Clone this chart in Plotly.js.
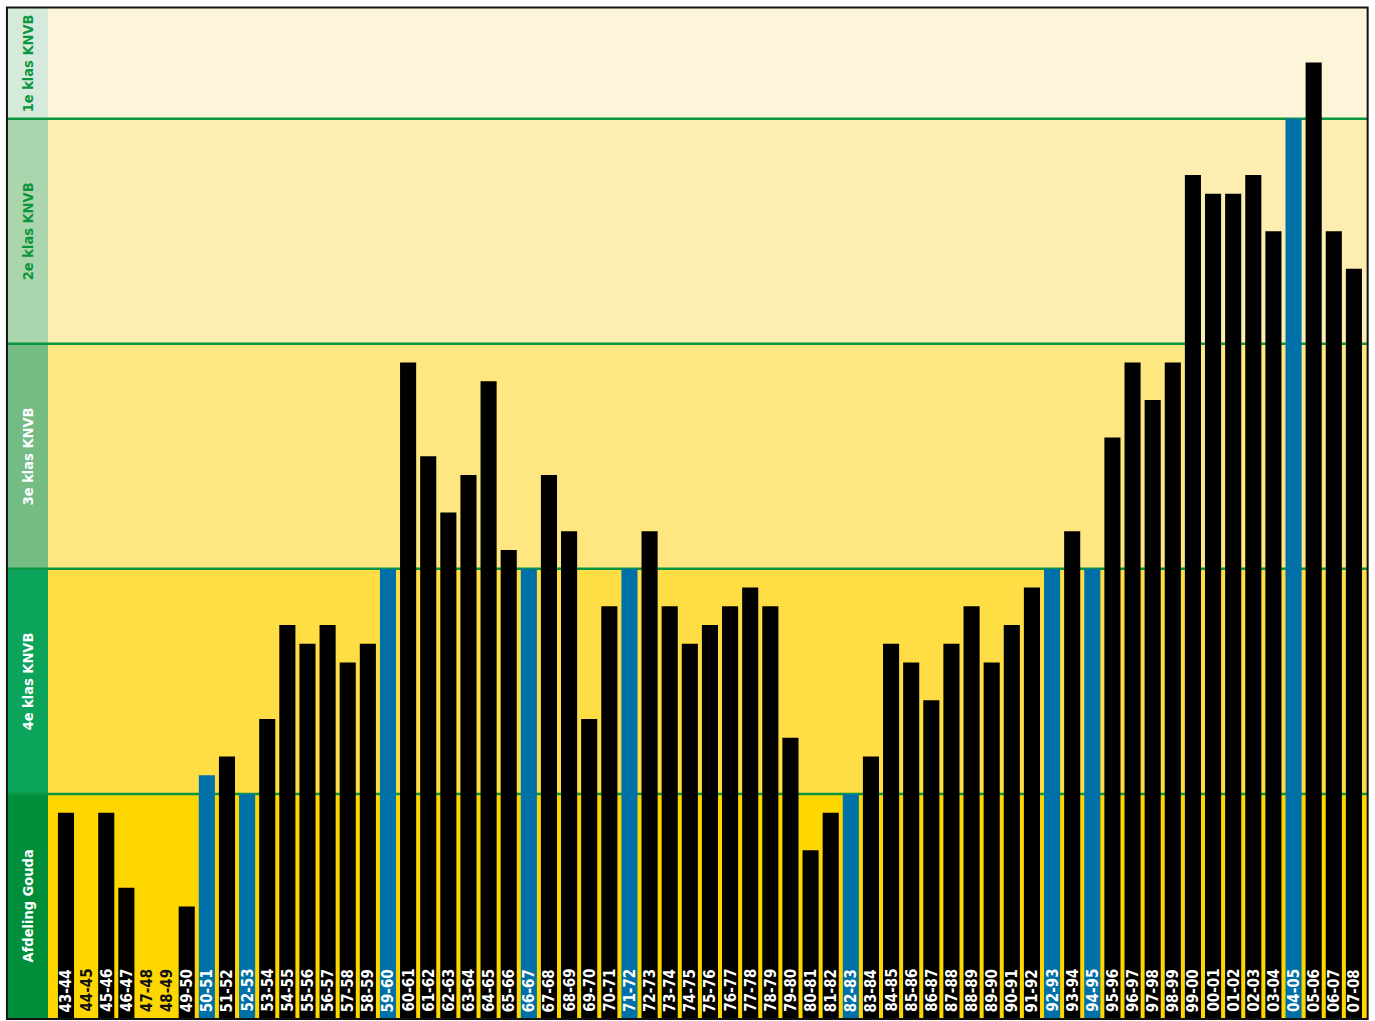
<!DOCTYPE html>
<html>
<head>
<meta charset="utf-8">
<script src="https://cdn.plot.ly/plotly-3.0.1.min.js"></script>
<style>html,body{margin:0;padding:0;background:#fff;}#chart{width:1375px;height:1021px;}</style>
</head>
<body>
<div id="chart"></div>
<script>
const seasons = ["43-44","44-45","45-46","46-47","47-48","48-49","49-50","50-51","51-52","52-53","53-54","54-55","55-56","56-57","57-58","58-59","59-60","60-61","61-62","62-63","63-64","64-65","65-66","66-67","67-68","68-69","69-70","70-71","71-72","72-73","73-74","74-75","75-76","76-77","77-78","78-79","79-80","80-81","81-82","82-83","83-84","84-85","85-86","86-87","87-88","88-89","89-90","90-91","91-92","92-93","93-94","94-95","95-96","96-97","97-98","98-99","99-00","00-01","01-02","02-03","03-04","04-05","05-06","06-07","07-08"];
const level = [11,0,11,7,0,0,6,13,14,12,16,21,20,21,19,20,24,35,30,27,29,34,25,24,29,26,16,22,24,26,22,20,21,22,23,22,15,9,11,12,14,20,19,17,20,22,19,21,23,24,26,24,31,35,33,35,45,44,44,45,42,48,51,42,40];
const promoted = [0,0,0,0,0,0,0,1,0,1,0,0,0,0,0,0,1,0,0,0,0,0,0,1,0,0,0,0,1,0,0,0,0,0,0,0,0,0,0,1,0,0,0,0,0,0,0,0,0,1,0,1,0,0,0,0,0,0,0,0,0,1,0,0,0];
const bandNames = ["Afdeling Gouda","4e klas KNVB","3e klas KNVB","2e klas KNVB","1e klas KNVB"];
const bandEdges = [0,12,24,36,48,53.9];

const bandFill = ["#FFD700","#FFDE45","#FEE680","#FEEDB0","#FDF5D9"];
const sideFill = ["#008E3A","#0CA35A","#74BC84","#ABD5AC","#D6EADB"];
const sideText = ["#ffffff","#ffffff","#ffffff","#0A9640","#0A9640"];
const FONT = "'Liberation Sans Narrow', 'DejaVu Sans Condensed', Arial, sans-serif";
const sideX0 = -40/1319;

const shapes = [];
const annotations = [];
for (let b = 0; b < bandNames.length; b++) {
  shapes.push({type:"rect", xref:"paper", yref:"y", x0:0, x1:1, y0:bandEdges[b], y1:bandEdges[b+1], fillcolor:bandFill[b], line:{width:0}, layer:"below"});
  shapes.push({type:"rect", xref:"paper", yref:"y", x0:sideX0, x1:0, y0:bandEdges[b], y1:bandEdges[b+1], fillcolor:sideFill[b], line:{width:0}, layer:"below"});
  annotations.push({xref:"paper", yref:"y", x:sideX0/2, y:(bandEdges[b]+bandEdges[b+1])/2, text:"<b>"+bandNames[b]+"</b>", textangle:-90, showarrow:false, font:{family:FONT, size:14.5, color:sideText[b]}, xanchor:"center", yanchor:"middle"});
}
for (let b = 1; b < bandNames.length; b++) {
  shapes.push({type:"line", xref:"paper", yref:"y", x0:sideX0, x1:1, y0:bandEdges[b], y1:bandEdges[b], line:{color:"#0A9640", width:2.5}, layer:"below"});
}
shapes.push({type:"rect", xref:"paper", yref:"paper", x0:sideX0-0.0008, x1:1.0005, y0:0, y1:1.0005, line:{color:"#111", width:2}, fillcolor:"rgba(0,0,0,0)", layer:"above"});

seasons.forEach((s, i) => {
  annotations.push({x:i, y:0, xref:"x", yref:"y", text:"<b>"+s+"</b>", textangle:-90, showarrow:false, xanchor:"center", yanchor:"bottom", yshift:5,
    font:{family:FONT, size:15, color: level[i] > 0 ? "#ffffff" : "#111111"}});
});

const trace = {
  type:"bar",
  x: seasons.map((s,i)=>i),
  y: level,
  width: 0.8,
  marker:{color: promoted.map(p => p ? "#0070A8" : "#000000"), line:{width:0}},
  hoverinfo:"skip"
};

const layout = {
  width:1375, height:1021,
  margin:{l:48, r:8, t:8, b:2, pad:0},
  paper_bgcolor:"#ffffff",
  plot_bgcolor:"#FFD700",
  showlegend:false,
  xaxis:{range:[-0.894, 64.65], showgrid:false, zeroline:false, showticklabels:false, ticks:"", fixedrange:true},
  yaxis:{range:[0, 53.9], showgrid:false, zeroline:false, showticklabels:false, ticks:"", fixedrange:true},
  shapes: shapes,
  annotations: annotations,
  bargap:0.2
};

Plotly.newPlot("chart", [trace], layout, {displayModeBar:false, staticPlot:true});
</script>
</body>
</html>
